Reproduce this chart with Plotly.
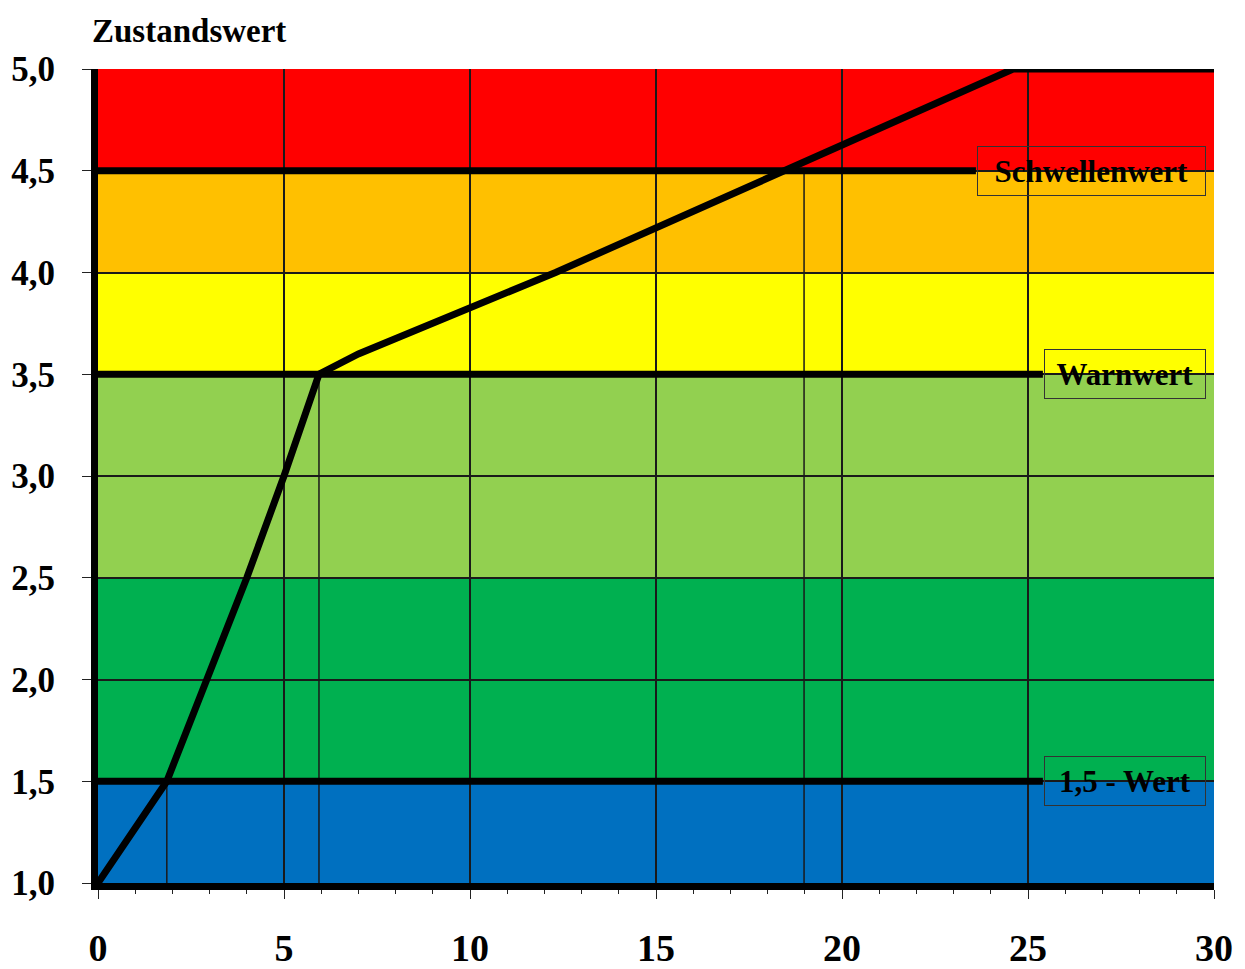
import plotly.graph_objects as go

# ---- data ----
band_low = [1.0, 1.5, 2.5, 3.5, 4.0, 4.5]
band_high = [1.5, 2.5, 3.5, 4.0, 4.5, 5.0]
band_color = ["#0070C0", "#00B050", "#92D050", "#FFFF00", "#FFC000", "#FF0000"]

curve_x = [0, 1.85, 4.0, 5.0, 5.94, 7.0, 12.3, 18.4, 24.6, 30]
curve_y = [1.0, 1.5, 2.5, 3.0, 3.5, 3.6, 4.0, 4.5, 5.0, 5.0]

thresh_y = [4.5, 3.5, 1.5]
thresh_end = [23.6, 25.4, 25.4]
thresh_label = ["Schwellenwert", "Warnwert", "1,5 - Wert"]
label_end = [29.8, 29.8, 29.8]

drop_x = [1.85, 5.94, 18.98]
drop_y = [1.5, 3.5, 4.5]

x_ticks = [0, 5, 10, 15, 20, 25, 30]
y_ticks = [1.0, 1.5, 2.0, 2.5, 3.0, 3.5, 4.0, 4.5, 5.0]
y_title = "Zustandswert"

FONT = "Liberation Serif"

fig = go.Figure()

shapes = []
for lo, hi, c in zip(band_low, band_high, band_color):
    shapes.append(dict(type="rect", xref="x", yref="y", x0=0, x1=30, y0=lo, y1=hi,
                       fillcolor=c, line=dict(width=0), layer="below"))

# drop lines
for dx, dy in zip(drop_x, drop_y):
    fig.add_trace(go.Scatter(x=[dx, dx], y=[1.0, dy], mode="lines",
                             line=dict(color="#1a1a1a", width=1.5),
                             hoverinfo="skip", showlegend=False))

# threshold lines
for ty, te in zip(thresh_y, thresh_end):
    fig.add_trace(go.Scatter(x=[0, te], y=[ty, ty], mode="lines",
                             line=dict(color="black", width=7),
                             hoverinfo="skip", showlegend=False))

# main curve
fig.add_trace(go.Scatter(x=curve_x, y=curve_y, mode="lines",
                         line=dict(color="black", width=7),
                         showlegend=False, cliponaxis=False))

annotations = []
px_per_unit = (1213 - 97) / 30.0
for ty, te, le, lab in zip(thresh_y, thresh_end, label_end, thresh_label):
    annotations.append(dict(
        x=(te + le) / 2, y=ty, xref="x", yref="y", text="<b>" + lab + "</b>",
        showarrow=False, font=dict(family=FONT, size=31, color="black"),
        bordercolor="#333333", borderwidth=1, borderpad=0,
        width=(le - te) * px_per_unit - 4, height=48,
        xanchor="center", yanchor="middle"))

annotations.append(dict(
    x=0, y=1, xref="paper", yref="paper", text="<b>" + y_title + "</b>",
    showarrow=False, xanchor="left", yanchor="bottom", xshift=-8, yshift=18,
    font=dict(family=FONT, size=33, color="black")))

fig.update_layout(
    width=1245, height=969,
    margin=dict(l=90, r=39, t=61, b=94),
    paper_bgcolor="white", plot_bgcolor="white",
    separators=",.",
    shapes=shapes, annotations=annotations,
    showlegend=False,
    xaxis=dict(range=[0, 30], tickvals=x_ticks, ticks="outside", ticklen=9,
               tickcolor="#222", tickwidth=1, automargin=False,
               minor=dict(dtick=1, ticks="outside", ticklen=4, tickcolor="#222", showgrid=False),
               showgrid=True, gridcolor="#1a1a1a", gridwidth=1.5,
               showline=True, linecolor="black", linewidth=7,
               zeroline=False, ticklabelstandoff=16,
               tickfont=dict(family=FONT, size=38, color="black", weight="bold")),
    yaxis=dict(range=[1, 5], tickvals=y_ticks, tickformat=".1f", ticks="outside",
               ticklen=9, tickcolor="#222", tickwidth=1, automargin=False,
               showgrid=True, gridcolor="#1a1a1a", gridwidth=1.5,
               showline=True, linecolor="black", linewidth=7,
               zeroline=False, ticklabelstandoff=20,
               tickfont=dict(family=FONT, size=35, color="black", weight="bold")),
)

fig.write_html("out.html")
